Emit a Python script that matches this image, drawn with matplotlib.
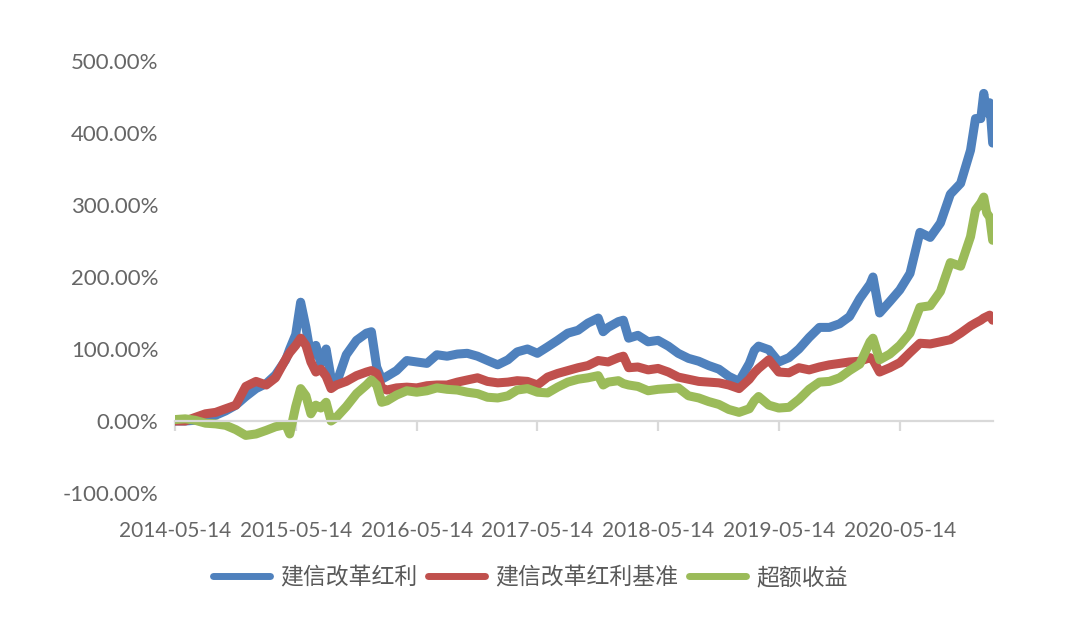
import matplotlib
matplotlib.use("Agg")
import matplotlib.pyplot as plt
import matplotlib.dates as mdates
import matplotlib.ticker as mticker
import pandas as pd

dates = [
    "2014-05-14", "2014-06-14", "2014-07-14", "2014-08-14", "2014-09-14", "2014-10-14",
    "2014-11-14", "2014-12-14", "2015-01-14", "2015-02-14", "2015-03-14", "2015-04-14",
    "2015-04-26", "2015-05-14", "2015-05-29", "2015-06-14", "2015-06-29", "2015-07-14",
    "2015-07-29", "2015-08-14", "2015-08-29", "2015-09-14", "2015-10-14", "2015-11-14",
    "2015-12-14", "2015-12-29", "2016-01-14", "2016-01-29", "2016-02-14",
    "2016-03-14", "2016-04-14", "2016-05-14", "2016-06-14", "2016-07-14", "2016-08-14",
    "2016-09-14", "2016-10-14", "2016-11-14", "2016-12-14", "2017-01-14", "2017-02-14",
    "2017-03-14", "2017-04-14", "2017-05-14", "2017-06-14", "2017-07-14", "2017-08-14",
    "2017-09-14", "2017-10-14",
    "2017-11-14", "2017-11-29", "2017-12-14", "2018-01-14", "2018-01-29", "2018-02-14",
    "2018-03-14", "2018-04-14", "2018-05-14", "2018-06-14", "2018-07-14", "2018-08-14",
    "2018-09-14", "2018-10-14", "2018-11-14", "2018-12-14", "2019-01-14",
    "2019-02-14", "2019-03-01", "2019-03-14",
    "2019-04-14", "2019-05-14", "2019-06-14", "2019-07-14", "2019-08-14", "2019-09-14",
    "2019-10-14", "2019-11-14", "2019-12-14", "2020-01-14", "2020-02-14",
    "2020-02-23",
    "2020-03-14", "2020-04-14", "2020-05-14", "2020-06-14", "2020-07-14", "2020-08-14",
    "2020-09-14", "2020-10-14", "2020-11-14", "2020-12-14",
    "2020-12-29", "2021-01-14", "2021-01-23", "2021-02-01", "2021-02-10", "2021-02-19",
]

# cumulative returns, %
fund = [
    0, 0, 1, 4, 8, 14, 22, 34, 45, 52, 64, 85,
    100, 120, 165, 130, 90, 105, 80, 100, 60, 52, 92, 112,
    122, 124, 75, 58, 62,
    70, 84, 82, 80, 92, 90, 93, 94, 90, 84, 78, 85,
    96, 100, 94, 103, 112, 122, 126, 136,
    143, 124, 130, 138, 140, 115,
    119, 110, 112, 104, 94, 87, 83, 77, 72, 62, 55,
    80, 98, 104,
    99, 82, 88, 100, 116, 130, 130, 135, 145, 170, 190,
    200,
    150, 166, 182, 205, 262, 255, 275, 315, 330, 376,
    420, 420, 455, 428, 442, 386,
]
bench = [
    0, 0, 5, 10, 12, 17, 22, 48, 55, 50, 60, 86,
    95, 105, 115, 105, 82, 68, 72, 62, 45, 50, 55, 63,
    68, 70, 66, 46, 43,
    46, 47, 46, 49, 50, 50, 54, 57, 60, 55, 53, 54,
    56, 55, 50, 61, 66, 70, 74, 77,
    84, 83, 82, 88, 90, 74,
    75, 71, 73, 68, 61, 58, 55, 54, 53, 50, 45,
    58, 67, 73,
    85, 68, 67, 74, 71, 75, 78, 80, 82, 83, 88,
    85,
    68, 74, 81, 95, 108, 107, 110, 113, 122, 132,
    136, 140, 143, 145, 147, 140,
]
excess = [
    2, 3, 1, -3, -4, -6, -12, -20, -18, -13, -8, -5,
    -18, 20, 45, 35, 10, 22, 18, 26, 0, 5, 20, 38,
    50, 57, 50, 26, 28,
    36, 42, 40, 42, 46, 44, 43, 40, 38, 33, 32, 35,
    43, 45, 40, 39, 47, 54, 58, 60,
    63, 50, 54, 56, 52, 50,
    48, 42, 44, 45, 46, 35, 32, 27, 23, 16, 12,
    17, 28, 34,
    22, 18, 19, 30, 44, 54, 55, 60, 70, 79, 110,
    115,
    85, 93, 105, 122, 158, 160, 180, 220, 215, 256,
    293, 303, 311, 289, 283, 251,
]

labels = ["建信改革红利", "建信改革红利基准", "超额收益"]
colors = ["#4F81BD", "#C0504D", "#9BBB59"]
year_ticks = ["2014-05-14", "2015-05-14", "2016-05-14", "2017-05-14",
              "2018-05-14", "2019-05-14", "2020-05-14"]
y_ticks = [-100, 0, 100, 200, 300, 400, 500]

plt.rcParams["font.family"] = ["Lato", "Noto Sans CJK SC", "DejaVu Sans"]

x = pd.to_datetime(dates)
fig = plt.figure(figsize=(10.8, 6.17), dpi=100)
ax = fig.add_axes([175 / 1080, 1 - 493 / 617, (993 - 175) / 1080, (493 - 61) / 617])

for vals, lab, c in zip([fund, bench, excess], labels, colors):
    ax.plot(x, vals, color=c, lw=6.5, label=lab,
            solid_joinstyle="round", solid_capstyle="round")

ax.set_ylim(-100, 500)
ax.set_xlim(pd.Timestamp("2014-05-14"), pd.Timestamp("2021-02-20"))

# y axis: labels only
ax.yaxis.set_major_locator(mticker.FixedLocator(y_ticks))
ax.yaxis.set_major_formatter(mticker.FuncFormatter(lambda v, p: "%.2f%%" % v))
ax.tick_params(axis="y", length=0, pad=12, labelsize=16, labelcolor="#666666")

# x axis line sits at 0, labels at the bottom
for s in ["top", "right", "left"]:
    ax.spines[s].set_visible(False)
ax.spines["bottom"].set_position(("data", 0))
ax.spines["bottom"].set_color("#D9D9D9")
ax.spines["bottom"].set_linewidth(1.6)
ax.set_xticks(pd.to_datetime(year_ticks))
ax.xaxis.set_major_formatter(mdates.DateFormatter("%Y-%m-%d"))
ax.tick_params(axis="x", direction="out", length=7, width=1.6, color="#D9D9D9",
               pad=65, labelsize=15, labelcolor="#666666")

leg = ax.legend(loc="center", bbox_to_anchor=(0.491, 1 - 578 / 617), bbox_transform=fig.transFigure,
                ncol=3, frameon=False, handlelength=2.5, handletextpad=0.45,
                columnspacing=0.45, prop={"family": ["Noto Sans CJK SC", "DejaVu Sans"], "size": 16.5})
for t in leg.get_texts():
    t.set_color("#595959")
for h in leg.get_lines():
    h.set_linewidth(5)

fig.savefig("out.png", dpi=100, facecolor="white")
